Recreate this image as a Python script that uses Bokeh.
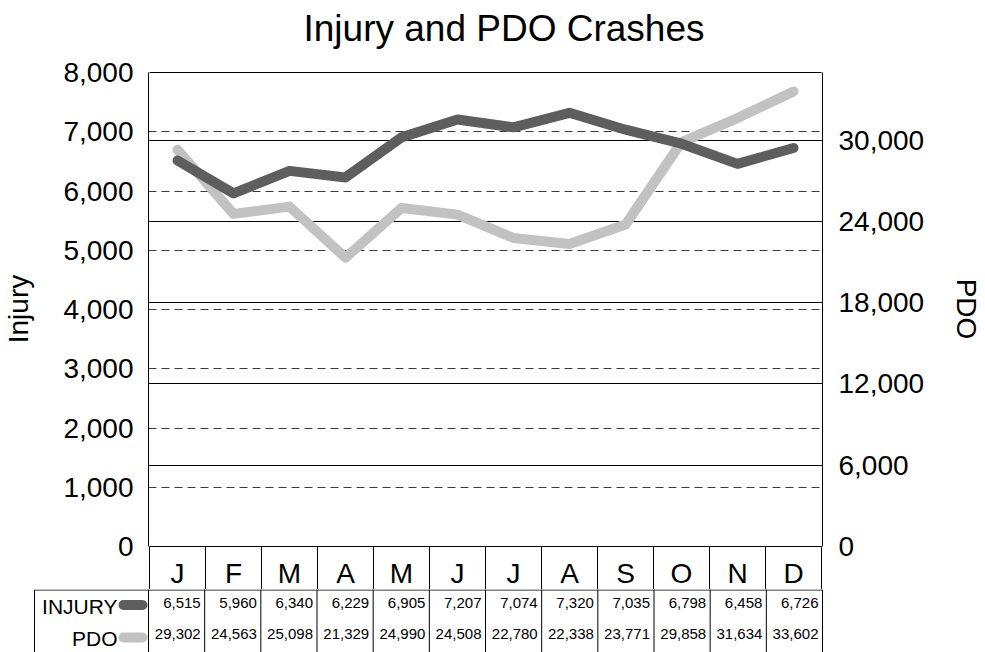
from bokeh.plotting import figure
from bokeh.layouts import column
from bokeh.models import (Range1d, LinearAxis, FixedTicker, NumeralTickFormatter, Grid,
                          ColumnDataSource)
from bokeh.core.properties import value
from bokeh.embed import file_html
from bokeh.resources import INLINE

# ---- data ----
months = ["J", "F", "M", "A", "M", "J", "J", "A", "S", "O", "N", "D"]
injury = [6515, 5960, 6340, 6229, 6905, 7207, 7074, 7320, 7035, 6798, 6458, 6726]
pdo = [29302, 24563, 25098, 21329, 24990, 24508, 22780, 22338, 23771, 29858, 31634, 33602]
injury_ticks = [0, 1000, 2000, 3000, 4000, 5000, 6000, 7000, 8000]
pdo_ticks = [0, 6000, 12000, 18000, 24000, 30000]
series_names = ["INJURY", "PDO"]
INJ_MAX = 8000
PDO_MAX = 35000

FONT = "Liberation Sans"
DARK = "#5e5e5e"
LIGHT = "#c2c2c2"
n = len(months)

# ---- layout constants (pixels) ----
W = 985
FRAME_LEFT, FRAME_RIGHT = 148, 822     # plot box
FRAME_TOP, ZERO_Y = 72, 546            # plot box
TITLE_H = 56
SPLIT_Y = 589                          # chart figure / table figure boundary
PAGE_H = 652
colw = (FRAME_RIGHT - FRAME_LEFT) / n
k_inj = (ZERO_Y - FRAME_TOP) / INJ_MAX
k_pdo = (ZERO_Y - FRAME_TOP) / PDO_MAX


def bare(fig):
    fig.center = []
    fig.outline_line_color = None
    fig.background_fill_color = "white"
    fig.border_fill_color = "white"
    if "frame_align" in fig.properties():
        fig.frame_align = False


# ---- title strip ----
pt = figure(width=W, height=TITLE_H, output_backend="svg", toolbar_location=None,
            x_axis_location=None, y_axis_location=None, x_range=Range1d(0, 1), y_range=Range1d(0, 1),
            min_border_left=22, min_border_right=0, min_border_top=0, min_border_bottom=0)
bare(pt)
pt.title.text = "Injury and PDO Crashes"
pt.title.text_font = FONT
pt.title.text_font_size = "37px"
pt.title.text_font_style = "normal"
pt.title.text_color = "black"
pt.title.align = "center"
pt.title.standoff = 10

# ---- chart (with the month row) ----
above_px = FRAME_TOP - TITLE_H
below_px = SPLIT_Y - ZERO_Y
p = figure(width=W, height=SPLIT_Y - TITLE_H, output_backend="svg", toolbar_location=None,
           x_range=Range1d(-1 / colw, n + 1 / colw),
           y_range=Range1d(-below_px / k_inj, INJ_MAX + above_px / k_inj),
           x_axis_location=None, y_axis_location=None,
           min_border_left=FRAME_LEFT - 1, min_border_right=W - FRAME_RIGHT - 1,
           min_border_top=0, min_border_bottom=0)
bare(p)
p.extra_y_ranges = {"pdo": Range1d(-below_px / k_pdo, PDO_MAX + above_px / k_pdo)}


def style_axis(ax, standoff):
    ax.major_tick_out = 0
    ax.major_tick_in = 0
    ax.minor_tick_out = 0
    ax.minor_tick_in = 0
    ax.major_label_standoff = standoff
    ax.major_label_text_font = FONT
    ax.major_label_text_font_size = "28px"
    ax.major_label_text_color = "black"
    ax.axis_line_color = "black"
    ax.axis_line_width = 1
    ax.axis_label_text_font = FONT
    ax.axis_label_text_font_size = "28px"
    ax.axis_label_text_font_style = "normal"
    ax.axis_label_text_color = "black"


# an em space keeps the rotated titles centred on the 0..8,000 box rather than the taller frame
la = LinearAxis(ticker=FixedTicker(ticks=injury_ticks), formatter=NumeralTickFormatter(format="0,0"),
                bounds=(0, INJ_MAX), axis_label="\u2003Injury")
style_axis(la, 15)
la.axis_label_standoff = 26
p.add_layout(la, "left")

ra = LinearAxis(y_range_name="pdo", ticker=FixedTicker(ticks=pdo_ticks),
                formatter=NumeralTickFormatter(format="0,0"), bounds=(0, PDO_MAX),
                axis_label="PDO\u2003")
style_axis(ra, 16)
ra.axis_label_standoff = 24
p.add_layout(ra, "right")

g1 = Grid(dimension=1, ticker=FixedTicker(ticks=injury_ticks[1:-1]),
          grid_line_color="#3a3a3a", grid_line_dash="8 5", grid_line_width=1)
g2 = Grid(dimension=1, ticker=FixedTicker(ticks=pdo_ticks[1:]), y_range_name="pdo",
          grid_line_color="black", grid_line_width=1)
p.add_layout(g1)
p.add_layout(g2)

src = ColumnDataSource(dict(
    mid=[i + 0.5 for i in range(n)],
    right=[i + 1 for i in range(n)],
    month=months,
    injury=injury,
    pdo=pdo,
    inj_txt=[f"{v:,}" for v in injury],
    pdo_txt=[f"{v:,}" for v in pdo],
))
p.line("mid", "pdo", source=src, y_range_name="pdo", line_color=LIGHT, line_width=10,
       line_cap="round", line_join="round")
p.line("mid", "injury", source=src, line_color=DARK, line_width=10,
       line_cap="round", line_join="round")

# plot box top/bottom and the month cells
cells = list(range(0, n + 1))
p.segment(x0=[0, 0], y0=[0, INJ_MAX], x1=[n, n], y1=[0, INJ_MAX], line_color="black", line_width=1)
p.segment(x0=cells, y0=0, x1=cells, y1=-2 * below_px / k_inj, line_color="black", line_width=1)
MONTH_Y = -(573 - ZERO_Y) / k_inj
p.text(x="mid", y=MONTH_Y, text="month", source=src,
       text_font=value(FONT), text_font_size="28px", text_align="center",
       text_baseline="middle", text_color="black")

# ---- data table ----
TBL_H = PAGE_H - SPLIT_Y
head_left = -(FRAME_LEFT - 34) / colw
pb = figure(width=W, height=TBL_H, output_backend="svg", toolbar_location=None,
            x_range=Range1d(-(FRAME_LEFT - 32) / colw, n + 2 / colw), y_range=Range1d(-TBL_H, 0),
            x_axis_location=None, y_axis_location=None,
            min_border_left=32, min_border_right=W - FRAME_RIGHT - 2,
            min_border_top=0, min_border_bottom=0)
bare(pb)

ROW_LINE = -0.5
INJ_Y = -(602 - SPLIT_Y)
PDO_Y = -(633 - SPLIT_Y)

pb.segment(x0=cells, y0=0, x1=cells, y1=-TBL_H - 10, line_color="black", line_width=1)
pb.segment(x0=[head_left], y0=[ROW_LINE], x1=[n], y1=[ROW_LINE], line_color="black", line_width=1)
pb.segment(x0=[head_left], y0=[ROW_LINE], x1=[head_left], y1=[-TBL_H - 10], line_color="black",
           line_width=1)

pb.text(x="right", y=INJ_Y, text="inj_txt", source=src, x_offset=-4,
        text_font=value(FONT), text_font_size="15px", text_align="right",
        text_baseline="middle", text_color="black")
pb.text(x="right", y=PDO_Y, text="pdo_txt", source=src, x_offset=-4,
        text_font=value(FONT), text_font_size="15px", text_align="right",
        text_baseline="middle", text_color="black")

leg = ColumnDataSource(dict(
    name=series_names,
    color=[DARK, LIGHT],
    ty=[-(605.5 - SPLIT_Y), -(637.5 - SPLIT_Y)],
    sy=[-(604.5 - SPLIT_Y), -(637 - SPLIT_Y)],
    tx=[-(FRAME_LEFT - 117) / colw] * 2,
    sx0=[-(FRAME_LEFT - 123) / colw] * 2,
    sx1=[-(FRAME_LEFT - 142) / colw] * 2,
))
pb.text(x="tx", y="ty", text="name", source=leg, text_font=value(FONT), text_font_size="21px",
        text_align="right", text_baseline="middle", text_color="black")
pb.segment(x0="sx0", y0="sy", x1="sx1", y1="sy", source=leg, line_color="color", line_width=10,
           line_cap="round")

layout = column(pt, p, pb, spacing=0)
open("out.html", "w").write(file_html(layout, INLINE))
